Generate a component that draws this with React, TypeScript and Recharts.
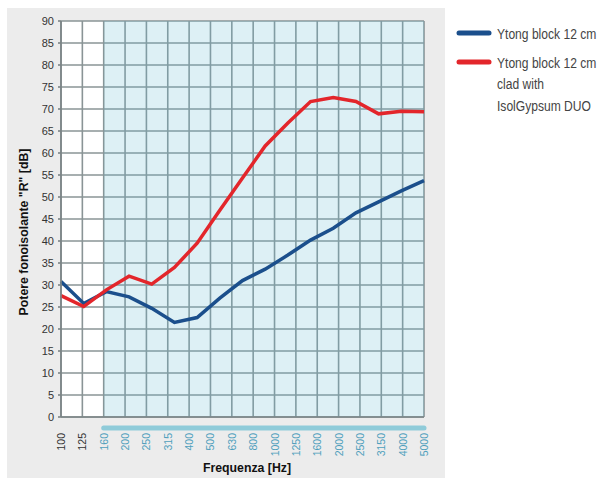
import React from 'react';
import {
  LineChart, Line, XAxis, YAxis, CartesianGrid, ReferenceArea, ReferenceLine, Label,
} from 'recharts';

const freqLabels = ['100', '125', '160', '200', '250', '315', '400', '500', '630', '800', '1000', '1250', '1600', '2000', '2500', '3150', '4000', '5000'];
const yTicks = [0, 5, 10, 15, 20, 25, 30, 35, 40, 45, 50, 55, 60, 65, 70, 75, 80, 85, 90];
const blockValues = [30.8, 25.8, 28.5, 27.3, 24.7, 21.5, 22.6, 27.0, 31.0, 33.6, 36.8, 40.2, 42.9, 46.4, 48.9, 51.4, 53.7];
const cladValues = [27.6, 25.1, 28.9, 32.0, 30.2, 34.0, 39.5, 47.0, 54.3, 61.6, 66.8, 71.7, 72.6, 71.7, 68.9, 69.5, 69.4];
const blockName = ['Ytong block 12 cm'];
const cladName = ['Ytong block 12 cm', 'clad with', 'IsolGypsum DUO'];
const shadedFrom = 2; // index of 160 Hz
const shadedTo = 17; // index of 5000 Hz

const data = blockValues.map((b, i) => ({ i, block: b, clad: cladValues[i] }));
const tickIdx = freqLabels.map((_, i) => i);

const FONT = '"Liberation Sans", Arial, sans-serif';
const BLUE = '#1b4f8c';
const RED = '#e3262b';
const TEAL = '#4f9fbc';
const DARK = '#333333';

const XTick = (props: any) => {
  const { x, y, payload } = props;
  const v = payload.value as number;
  return (
    <text
      x={x}
      y={y}
      transform={`rotate(-90 ${x} ${y})`}
      textAnchor="end"
      dominantBaseline="central"
      fontFamily={FONT}
      fontSize={10.5}
      fill={v >= shadedFrom ? TEAL : DARK}
    >
      {freqLabels[v]}
    </text>
  );
};

const YTick = (props: any) => {
  const { x, y, payload } = props;
  return (
    <text x={x} y={y} textAnchor="end" dominantBaseline="central" fontFamily={FONT} fontSize={11} fill={DARK}>
      {payload.value}
    </text>
  );
};

const titleStyle = { fontFamily: FONT, fontWeight: 'bold' as const, fontSize: 12.3, fill: '#111' };

const LegendText = ({ x, y, text }: { x: number; y: number; text: string }) => (
  <text
    x={0}
    y={0}
    transform={`translate(${x} ${y}) scale(0.78 1)`}
    dominantBaseline="central"
    fontFamily={FONT}
    fontSize={15.5}
    fill="#444"
  >
    {text}
  </text>
);

export default function App() {
  return (
    <div style={{ position: 'absolute', left: 0, top: 0, width: 603, height: 479, background: '#ffffff' }}>
      <div style={{ position: 'absolute', left: 7, top: 8, width: 438, height: 470, background: '#ececec' }} />
      <div style={{ position: 'absolute', left: 0, top: 0 }}>
        <LineChart width={603} height={479} data={data} margin={{ top: 21, right: 179, bottom: 17, left: 21 }}>
          <CartesianGrid xAxisId="f" stroke="#8a9496" strokeWidth={1.6} vertical horizontal fill="#ffffff" />
          <ReferenceArea
            xAxisId="f"
            x1={shadedFrom}
            x2={shadedTo}
            y1={0}
            y2={90}
            fill="#62bcd3"
            fillOpacity={0.22}
            stroke="none"
          />
          <XAxis xAxisId="d" type="number" dataKey="i" domain={[0, 16]} hide orientation="top" height={0} />
          <XAxis
            xAxisId="f"
            type="number"
            dataKey="i"
            domain={[0, 17]}
            ticks={tickIdx}
            interval={0}
            height={45}
            tickSize={0}
            tickMargin={16}
            tick={<XTick />}
            axisLine={{ stroke: '#7b8486', strokeWidth: 1.6 }}
            allowDataOverflow
          >
            <Label
              content={() => (
                <text x={247} y={468} textAnchor="middle" dominantBaseline="central" style={titleStyle}>
                  Frequenza [Hz]
                </text>
              )}
            />
          </XAxis>
          <YAxis
            type="number"
            domain={[0, 90]}
            ticks={yTicks}
            interval={0}
            width={40}
            tickSize={3}
            tickMargin={4}
            tick={<YTick />}
            tickLine={{ stroke: '#7b8486', strokeWidth: 1.6 }}
            axisLine={{ stroke: '#7b8486', strokeWidth: 1.6 }}
          >
            <Label
              content={() => (
                <text
                  x={23.5}
                  y={232}
                  transform="rotate(-90 23.5 232)"
                  textAnchor="middle"
                  dominantBaseline="central"
                  style={titleStyle}
                >
                  {'Potere fonoisolante "R" [dB]'}
                </text>
              )}
            />
          </YAxis>
          <ReferenceLine
            xAxisId="f"
            segment={[{ x: shadedFrom, y: -2.5 }, { x: shadedTo, y: -2.5 }]}
            ifOverflow="visible"
            stroke="#8fcbd9"
            strokeWidth={5}
            strokeLinecap="round"
          />
          <Line
            xAxisId="d"
            type="linear"
            dataKey="block"
            stroke={BLUE}
            strokeWidth={3.5}
            dot={false}
            isAnimationActive={false}
          />
          <Line
            xAxisId="d"
            type="linear"
            dataKey="clad"
            stroke={RED}
            strokeWidth={3.5}
            dot={false}
            isAnimationActive={false}
          />
        </LineChart>
      </div>
      <svg style={{ position: 'absolute', left: 0, top: 0 }} width={603} height={479}>
        <line x1={459} y1={33} x2={489} y2={33} stroke={BLUE} strokeWidth={5} strokeLinecap="round" />
        {blockName.map((t, k) => (
          <LegendText key={k} x={497} y={33 + k * 21.7} text={t} />
        ))}
        <line x1={459} y1={62} x2={489} y2={62} stroke={RED} strokeWidth={5} strokeLinecap="round" />
        {cladName.map((t, k) => (
          <LegendText key={k} x={497} y={62 + k * 21.7} text={t} />
        ))}
      </svg>
    </div>
  );
}
